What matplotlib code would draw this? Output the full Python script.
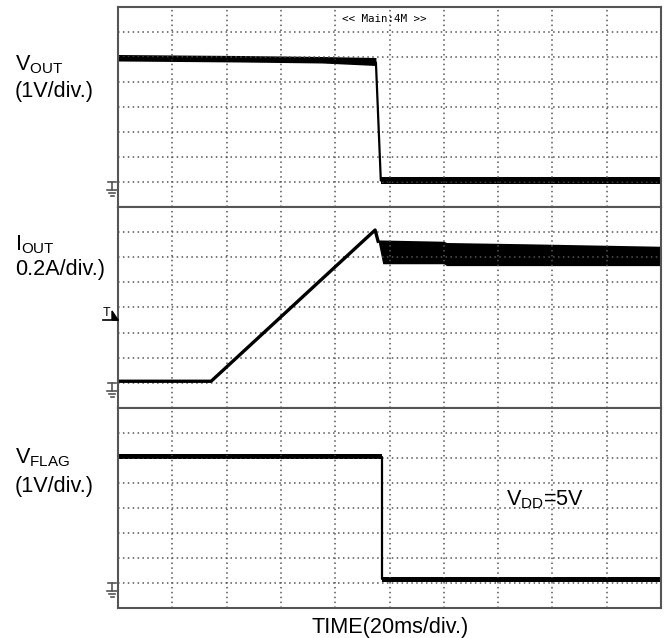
import matplotlib
matplotlib.use("Agg")
import matplotlib.pyplot as plt
from matplotlib.lines import Line2D
from matplotlib.patches import Polygon
from matplotlib.transforms import IdentityTransform

plt.rcParams['font.family'] = ['Liberation Sans', 'DejaVu Sans']
plt.rcParams['mathtext.fontset'] = 'custom'
plt.rcParams['mathtext.rm'] = 'Liberation Sans'
plt.rcParams['mathtext.default'] = 'regular'

# time axis: 20 ms/div, 10 divisions
t_div = 20
n_xdiv = 10

# V_OUT trace (V)
vout_t = [0, 45, 75, 95.0, 96.8, 200]
vout_v = [4.98, 4.94, 4.90, 4.80, 0.08, 0.08]
vout_hi_t = [0, 45, 75, 95.0]
vout_hi_top = [5.12, 5.08, 5.04, 5.00]
vout_hi_bot = [4.86, 4.82, 4.78, 4.68]
vout_lo_t = [96.8, 200]
vout_lo_top = [0.22, 0.22]
vout_lo_bot = [-0.06, -0.06]

# I_OUT trace (A)
iout_t = [0, 34.3, 94.7, 95.8]
iout_a = [0.01, 0.01, 1.22, 1.13]
iout_band_t = [95.8, 97.5, 120, 121, 150, 200]
iout_band_top = [1.14, 1.14, 1.13, 1.12, 1.11, 1.09]
iout_band_bot = [1.13, 0.95, 0.95, 0.935, 0.935, 0.935]
trig_level = 0.5

# V_FLAG trace (V)
vflag_t = [0, 97.1, 97.1, 200]
vflag_v = [5.04, 5.04, 0.13, 0.13]
vflag_hi_t = [0, 97.1]
vflag_hi_top = [5.14, 5.14]
vflag_hi_bot = [4.94, 4.94]
vflag_lo_t = [97.1, 200]
vflag_lo_top = [0.22, 0.22]
vflag_lo_bot = [0.04, 0.04]

W, H = 667, 638
fig = plt.figure(figsize=(W / 100, H / 100), dpi=100)

frame_col = '#555555'
grid_col = '#555555'


def make_axes(top_px, per_div):
    ax = fig.add_axes([118 / W, 1 - (top_px + 200) / H, 543 / W, 200 / H])
    ax.set_xlim(0, t_div * n_xdiv)
    ax.set_ylim(-per_div, 7 * per_div)
    ax.set_xticks([t_div * i for i in range(1, n_xdiv)])
    ax.set_yticks([per_div * i for i in range(0, 7)])
    ax.tick_params(length=0, labelbottom=False, labelleft=False)
    ax.grid(True, color=grid_col, linestyle=(0, (1, 2.2)), linewidth=1.1)
    for s in ax.spines.values():
        s.set_color(frame_col)
        s.set_linewidth(1.5)
    return ax


def ground_mark(ax):
    x0 = ax.transAxes.transform((0, 0))[0]
    y0 = ax.transData.transform((0, 0))[1]
    segs = [((x0 - 10, x0 - 2), (y0, y0)),
            ((x0 - 6, x0 - 6), (y0, y0 - 8)),
            ((x0 - 11, x0), (y0 - 8, y0 - 8)),
            ((x0 - 9, x0 - 3), (y0 - 11, y0 - 11)),
            ((x0 - 7.5, x0 - 4.5), (y0 - 14, y0 - 14))]
    for xs, ys in segs:
        fig.add_artist(Line2D(xs, ys, color=frame_col, lw=1.2,
                              transform=IdentityTransform()))


ax1 = make_axes(7.5, 1.0)
ax2 = make_axes(207.5, 0.2)
ax3 = make_axes(407.5, 1.0)

# V_OUT
ax1.plot(vout_t, vout_v, color='black', lw=1.6)
ax1.fill_between(vout_hi_t, vout_hi_bot, vout_hi_top, color='black', lw=0)
ax1.fill_between(vout_lo_t, vout_lo_bot, vout_lo_top, color='black', lw=0)

# I_OUT
ax2.plot(iout_t, iout_a, color='black', lw=2.4)
ax2.fill_between(iout_band_t, iout_band_bot, iout_band_top, color='black', lw=0)

# V_FLAG
ax3.plot(vflag_t, vflag_v, color='black', lw=1.6)
ax3.fill_between(vflag_hi_t, vflag_hi_bot, vflag_hi_top, color='black', lw=0)
ax3.fill_between(vflag_lo_t, vflag_lo_bot, vflag_lo_top, color='black', lw=0)

for ax in (ax1, ax2, ax3):
    ground_mark(ax)

# trigger marker
x0 = ax2.transAxes.transform((0, 0))[0]
yt = ax2.transData.transform((0, trig_level))[1]
fig.add_artist(Line2D((x0 - 15, x0), (yt, yt), color='black', lw=1.2,
                      transform=IdentityTransform()))
fig.add_artist(Polygon([(x0 - 6, yt + 9), (x0, yt), (x0 - 6, yt)], closed=True,
                       color='black', transform=IdentityTransform()))
fig.text((x0 - 11) / W, (yt + 1) / H, 'T', fontsize=9, ha='center', va='bottom')

ax1.text(0.49, 0.943, '<< Main:4M >>', transform=ax1.transAxes,
         family='DejaVu Sans Mono', fontsize=7.8, ha='center', va='center')

fs = 15.6


def label(txt, y_px):
    fig.text(15 / W, 1 - y_px / H, txt, fontsize=fs, ha='left', va='baseline')


label(r'$V_{OUT}$', 70)
label('(1V/div.)', 97)
label(r'$I_{OUT}$', 250)
label('0.2A/div.)', 275)
label(r'$V_{FLAG}$', 463)
label('(1V/div.)', 492)

fig.text(506 / W, 1 - 505 / H, r'$V_{DD}$=5V', fontsize=fs, ha='left', va='baseline')
fig.text(390 / W, 1 - 633 / H, 'TIME(20ms/div.)', fontsize=fs, ha='center', va='baseline')

fig.savefig('out.png', dpi=100)
